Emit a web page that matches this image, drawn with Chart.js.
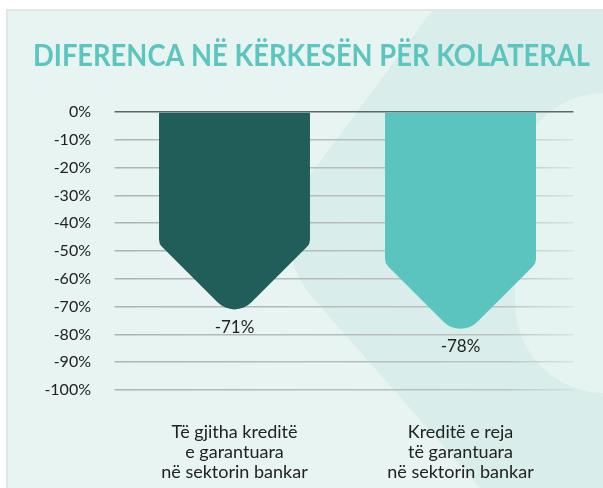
<!DOCTYPE html>
<html>
<head>
<meta charset="utf-8">
<script src="https://cdn.jsdelivr.net/npm/chart.js@4.4.0/dist/chart.umd.min.js"></script>
<style>
  html, body { margin: 0; padding: 0; background: #fff; }
  #wrap { width: 603px; height: 488px; }
</style>
</head>
<body>
<div id="wrap"><canvas id="collateralChart" width="603" height="488"></canvas></div>
<script>
const chartTitle = 'DIFERENCA NË KËRKESËN PËR KOLATERAL';
const categories = [
    ['Të gjitha kreditë', 'e garantuara', 'në sektorin bankar'],
    ['Kreditë e reja', 'të garantuara', 'në sektorin bankar']
];
const values = [-71, -78];
const valueLabels = ['-71%', '-78%'];
const barColors = ['#215e5a', '#5cc4be'];
const yMin = -100;
const yMax = 0;
const yStep = 10;

// panel background + soft decorative shapes
const backdrop = {
    id: 'backdrop',
    beforeDraw(chart) {
        const ctx = chart.ctx;
        ctx.save();
        ctx.fillStyle = '#ffffff';
        ctx.fillRect(0, 0, chart.width, chart.height);
        ctx.fillStyle = '#e0e6e6';
        ctx.fillRect(6, 9, chart.width, chart.height);
        ctx.fillStyle = '#e7f4f2';
        ctx.fillRect(8, 11, chart.width, chart.height);
        ctx.beginPath();
        ctx.rect(8, 11, chart.width, chart.height);
        ctx.clip();
        // chevron
        ctx.fillStyle = '#d9eeeb';
        ctx.beginPath();
        ctx.moveTo(440, 0);
        ctx.arcTo(262, 240, 480, 488, 95);
        ctx.lineTo(480, 488);
        ctx.lineTo(700, 488);
        ctx.lineTo(700, 0);
        ctx.closePath();
        ctx.fill();
        // lighter rounded block on the right
        ctx.fillStyle = '#e5f3f1';
        ctx.beginPath();
        ctx.roundRect(515, 93, 250, 300, 90);
        ctx.fill();
        ctx.restore();
    }
};

const titleText = {
    id: 'titleText',
    afterDraw(chart) {
        const ctx = chart.ctx;
        ctx.save();
        ctx.font = 'bold 31px Lato';
        ctx.fillStyle = '#5cc5be';
        ctx.textAlign = 'center';
        ctx.textBaseline = 'middle';
        ctx.fillText(chartTitle, 311.5, 56, 557);
        ctx.restore();
    }
};

// bars drawn as downward arrows from the bar elements' geometry
const arrowBars = {
    id: 'arrowBars',
    afterDatasetsDraw(chart) {
        const ctx = chart.ctx;
        const meta = chart.getDatasetMeta(0);
        meta.data.forEach(function (bar, i) {
            const p = bar.getProps(['x', 'y', 'base', 'width'], true);
            const half = p.width / 2;
            const left = p.x - half;
            const right = p.x + half;
            const tipR = 24;
            const shR = 10;
            const apex = p.y + tipR * (Math.SQRT2 - 1);
            const shoulder = apex - half;
            ctx.save();
            ctx.fillStyle = barColors[i];
            ctx.beginPath();
            ctx.moveTo(left, p.base);
            ctx.lineTo(right, p.base);
            ctx.arcTo(right, shoulder, p.x, apex, shR);
            ctx.arcTo(p.x, apex, left, shoulder, tipR);
            ctx.arcTo(left, shoulder, left, p.base, shR);
            ctx.closePath();
            ctx.fill();
            ctx.font = '17px Lato';
            ctx.fillStyle = '#222';
            ctx.textAlign = 'center';
            ctx.textBaseline = 'middle';
            ctx.fillText(valueLabels[i], p.x, p.y + 18);
            ctx.restore();
        });
    }
};

function gridColor(context) {
    if (context.tick && context.tick.value === 0) {
        return '#5f6666';
    }
    const chart = context.chart;
    const area = chart.chartArea;
    if (!area) {
        return '#b2b8b8';
    }
    const g = chart.ctx.createLinearGradient(area.left - 8, 0, chart.width, 0);
    g.addColorStop(0, '#aeb4b4');
    g.addColorStop(0.8, '#bcc4c3');
    g.addColorStop(0.93, 'rgba(200,215,213,0.6)');
    g.addColorStop(1, 'rgba(220,235,233,0)');
    return g;
}

let ctxEl = document.getElementById('collateralChart');
let collateralChart = new Chart(ctxEl, {
    type: 'bar',
    data: {
        labels: categories,
        datasets: [{
            data: values,
            backgroundColor: 'rgba(0,0,0,0)',
            borderWidth: 0,
            categoryPercentage: 1,
            barPercentage: 0.668
        }]
    },
    options: {
        responsive: false,
        animation: false,
        layout: {
            padding: { top: 112, right: 29.5, bottom: 0, left: 0 }
        },
        plugins: {
            legend: { display: false },
            title: { display: false },
            tooltip: { enabled: false }
        },
        scales: {
            x: {
                grid: { display: false, drawTicks: false },
                border: { display: false },
                ticks: {
                    padding: 32,
                    color: '#222',
                    font: { family: 'Lato', size: 18, lineHeight: 1.11 },
                    maxRotation: 0
                },
                afterFit: function (scale) { scale.height = 98; }
            },
            y: {
                min: yMin,
                max: yMax,
                grid: {
                    color: gridColor,
                    lineWidth: 1.5,
                    tickLength: 7,
                    drawTicks: true
                },
                border: { display: false },
                ticks: {
                    stepSize: yStep,
                    padding: 23.5,
                    color: '#222',
                    font: { family: 'Lato', size: 16 },
                    callback: function (v) { return v + '%'; }
                },
                afterFit: function (scale) { scale.width = 121.5; }
            }
        }
    },
    plugins: [backdrop, arrowBars, titleText]
});
</script>
</body>
</html>
